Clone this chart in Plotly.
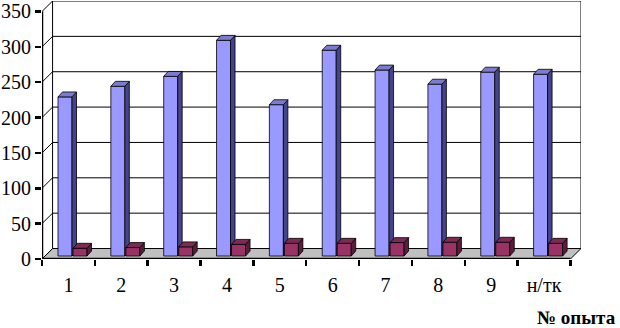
import plotly.graph_objects as go

# ---- data ----
categories = ["1", "2", "3", "4", "5", "6", "7", "8", "9", "н/тк"]
series_blue = [225, 240, 254, 305, 214, 291, 263, 243, 260, 257]
series_red = [11, 12, 13, 16.5, 18, 18, 19, 19.5, 19.5, 18]
y_ticks = [0, 50, 100, 150, 200, 250, 300, 350]
x_title = "№ опыта"

# ---- styling / geometry constants ----
n = len(categories)
idx = list(range(n))
DX, DY = 0.2, 14.8      # depth of the walls (x units, y units)
BASE = 4.2              # bars sit slightly behind the front edge
BW = 0.265              # bar width
BDX, BDY = 0.085, 7.0   # bar depth
OFF_BLUE, OFF_RED = -0.197, 0.087
FONT = "Liberation Serif"
YMAX = max(y_ticks)
XL, XR = -0.5, n - 0.5

blue = dict(front="#9999FF", side="#44448C", top="#7C7CCE")
red = dict(front="#993366", side="#5A1E3C", top="#7E2A55")


def faces(values, off):
    fx, fy, sx, sy, tx, ty = [], [], [], [], [], []
    for i, v in zip(idx, values):
        x0 = i + off
        x1 = x0 + BW
        y0 = BASE
        y1 = BASE + v
        fx += [x0, x1, x1, x0, x0, None]
        fy += [y0, y0, y1, y1, y0, None]
        sx += [x1, x1 + BDX, x1 + BDX, x1, x1, None]
        sy += [y0, y0 + BDY, y1 + BDY, y1, y0, None]
        tx += [x0, x1, x1 + BDX, x0 + BDX, x0, None]
        ty += [y1, y1, y1 + BDY, y1 + BDY, y1, None]
    return (fx, fy), (sx, sy), (tx, ty)


fig = go.Figure()
for vals, off, col in [(series_blue, OFF_BLUE, blue), (series_red, OFF_RED, red)]:
    front, side, top = faces(vals, off)
    for (xs, ys), c in [(front, col["front"]), (side, col["side"]), (top, col["top"])]:
        fig.add_trace(go.Scatter(
            x=xs, y=ys, mode="lines", fill="toself", fillcolor=c,
            line=dict(color="black", width=0.8), hoverinfo="skip",
            showlegend=False))

shapes = []
# floor
shapes.append(dict(
    type="path", xref="x", yref="y", layer="below",
    path=f"M {XL},0 L {XR},0 L {XR + DX},{DY} L {XL + DX},{DY} Z",
    fillcolor="#C0C0C0", line=dict(color="black", width=1)))
# back wall gridlines and side-wall diagonals
for t in y_ticks:
    if t > 0:
        shapes.append(dict(type="line", xref="x", yref="y", layer="below",
                           x0=XL + DX, x1=XR + DX, y0=t + DY, y1=t + DY,
                           line=dict(color="black", width=1)))
    shapes.append(dict(type="line", xref="x", yref="y", layer="below",
                       x0=XL, x1=XL + DX, y0=t, y1=t + DY,
                       line=dict(color="black", width=1)))
# back wall verticals
for xv in (XL + DX, XR + DX):
    shapes.append(dict(type="line", xref="x", yref="y", layer="below",
                       x0=xv, x1=xv, y0=DY, y1=YMAX + DY,
                       line=dict(color="black", width=1)))
# front axes lines
shapes.append(dict(type="line", xref="x", yref="y", x0=XL, x1=XR, y0=0, y1=0,
                   line=dict(color="black", width=2.5)))
shapes.append(dict(type="line", xref="x", yref="y", x0=XL, x1=XL, y0=0, y1=YMAX,
                   line=dict(color="black", width=2.5)))

fig.update_layout(
    width=620, height=328,
    margin=dict(l=42, r=39, t=1, b=69),
    paper_bgcolor="white", plot_bgcolor="white",
    shapes=shapes,
    showlegend=False,
    hovermode=False,
    font=dict(family=FONT, color="black", size=20),
    xaxis=dict(
        range=[XL, XR + DX], tickvals=idx, ticktext=categories, ticks="",
        showgrid=False, zeroline=False, showline=False,
        tickfont=dict(family=FONT, size=20, color="black"),
        ticklabelstandoff=12,
        minor=dict(tickvals=[i - 0.5 for i in range(n + 1)], ticks="outside",
                   ticklen=6, tickwidth=2.5, tickcolor="black", showgrid=False),
    ),
    yaxis=dict(
        range=[0, YMAX + DY], tickvals=y_ticks, ticks="outside", ticklen=6,
        tickwidth=2.5, tickcolor="black", showgrid=False, zeroline=False,
        showline=False, tickfont=dict(family=FONT, size=20, color="black"),
    ),
    annotations=[dict(
        text="<b>" + x_title + "</b>", xref="paper", yref="paper",
        x=(618 - 42) / 539, y=-(317 - 259) / 258, xanchor="right", yanchor="middle",
        showarrow=False, font=dict(family=FONT, size=19, color="black"))],
)

fig.write_html("out.html", config={"displayModeBar": False, "staticPlot": True},
               post_script="document.body.style.margin='0';document.body.style.padding='0';")
